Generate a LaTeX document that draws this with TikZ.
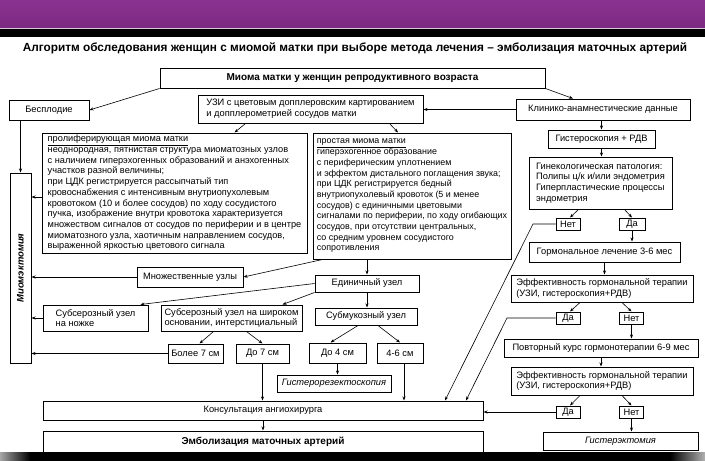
\documentclass[tikz,border=0pt]{standalone}
\usepackage{fontspec}
\setmainfont{Liberation Sans}
\usepackage{tikz}
\usetikzlibrary{arrows.meta}
\definecolor{BandPurple}{HTML}{8B3290}
\definecolor{BandPurpleDark}{HTML}{7C2A82}
\definecolor{BandLine}{HTML}{D6CAD8}

\begin{document}
\begin{tikzpicture}[x=1pt,y=-1pt,
    box/.style={draw, line width=1pt, inner sep=2pt, align=left,
      font=\fontsize{9.3}{10.7}\selectfont},
    tag/.style={box, align=center, inner sep=0pt},
    wh/.style 2 args={minimum width=#1pt, minimum height=#2pt},
    arr/.style={-{Stealth[length=4pt,width=3pt]}, line width=0.6pt}]
    \useasboundingbox (0,0) rectangle (705,461);
    \fill[white] (0,0) rectangle (705,461);
    \shade[top color=BandPurple, bottom color=BandPurpleDark] (0,0) rectangle (705,27.5);
    \fill[BandLine] (0,27.5) rectangle (705,28.7);
    \fill[black] (0,28.7) rectangle (705,37);

    \node[font=\bfseries\fontsize{11.8}{13}\selectfont] (title) at (355,48)
      {Алгоритм обследования женщин с миомой матки при выборе метода лечения – эмболизация маточных артерий};

    \node[box, align=center, wh={385}{20}, font=\bfseries\fontsize{10}{11}\selectfont] (myoma) at (352.5,78)
      {Миома матки у женщин репродуктивного возраста};
    \node[box, align=center, wh={80}{20}] (infert) at (49,110) {Бесплодие};
    \node[box, wh={225}{28}] (us) at (310.5,109)
      {УЗИ с цветовым допплеровским картированием\\и допплерометрией сосудов матки};
    \node[box, align=center, wh={174}{21}] (clinic) at (603,109.5) {Клинико-анамнестические данные};

    \node[box, align=center, wh={107}{18}] (hysc) at (601.5,139) {Гистероскопия + РДВ};
    \node[box, wh={143}{52}] (gyn) at (600.5,183)
      {Гинекологическая патология:\\Полипы ц/к и/или эндометрия\\Гиперпластические процессы\\эндометрия};
    \node[tag, wh={24}{12}] (no1) at (568,224) {Нет};
    \node[tag, wh={26}{12}] (yes1) at (632,224) {Да};
    \node[box, align=center, wh={151}{20}] (horm) at (604.5,252) {Гормональное лечение 3-6 мес};
    \node[box, wh={182}{27}] (eff1) at (602,288.5)
      {Эффективность гормональной терапии\\(УЗИ, гистероскопия+РДВ)};
    \node[tag, wh={24}{12}] (yes2) at (568,318) {Да};
    \node[tag, wh={24}{12}] (no2) at (631.5,318) {Нет};
    \node[box, align=center, wh={194}{18}] (repeat) at (601,348) {Повторный курс гормонотерапии 6-9 мес};
    \node[box, wh={182}{28}] (eff2) at (602,381)
      {Эффективность гормональной терапии\\(УЗИ, гистероскопия+РДВ)};
    \node[tag, wh={24}{12}] (yes3) at (568,412) {Да};
    \node[tag, wh={24}{12}] (no3) at (631.5,412) {Нет};
    \node[box, align=center, wh={155}{18}, font=\itshape\fontsize{9.3}{10.7}\selectfont] (hyster) at (620.5,441)
      {Гистерэктомия};

    \node[box, wh={265}{120}, font=\fontsize{9.2}{10.7}\selectfont] (prolif) at (174.5,193)
      {\underline{пролиферирующая миома матки}\\
       неоднородная, пятнистая структура миоматозных узлов\\
       с наличием гиперэхогенных образований и анэхогенных\\
       участков разной величины;\\
       при ЦДК регистрируется рассыпчатый тип\\
       кровоснабжения с интенсивным внутриопухолевым\\
       кровотоком (10 и более сосудов) по ходу сосудистого\\
       пучка, изображение внутри кровотока характеризуется\\
       множеством сигналов от сосудов по периферии и в центре\\
       миоматозного узла, хаотичным направлением сосудов,\\
       выраженной яркостью цветового сигнала};
    \node[box, wh={198}{126}, font=\fontsize{8.9}{10.7}\selectfont] (simple) at (412,196)
      {\underline{простая миома матки}\\
       гиперэхогенное образование\\
       с периферическим уплотнением\\
       и эффектом дистального поглащения звука;\\
       при ЦДК регистрируется бедный\\
       внутриопухолевый кровоток (5 и менее\\
       сосудов) с единичными цветовыми\\
       сигналами по периферии, по ходу огибающих\\
       сосудов, при отсутствии центральных,\\
       со средним уровнем сосудистого\\
       сопротивления};

    \node[box, wh={21}{190}] (myomect) at (20.5,268) {};
    \node[rotate=90, font=\bfseries\itshape\fontsize{9.5}{10}\selectfont] (myomecttxt) at (myomect) {Миомэктомия};

    \node[box, align=center, wh={106}{20}] (multi) at (190,277) {Множественные узлы};
    \node[box, align=center, wh={104}{17}] (single) at (367,283.5) {Единичный узел};
    \node[box, wh={105}{26}] (subped) at (95.5,318) {Субсерозный узел\\на ножке};
    \node[box, wh={141}{26}] (subbroad) at (231.5,318) {Субсерозный узел на широком\\основании, интерстициальный};
    \node[box, align=center, wh={102}{17}] (submuc) at (366,316.5) {Субмукозный узел};
    \node[box, align=center, wh={55}{19}] (over7) at (195.5,353.5) {Более 7 см};
    \node[box, align=center, wh={53}{19}] (upto7) at (262.5,353.5) {До 7 см};
    \node[box, align=center, wh={57}{20}] (upto4) at (337.5,353) {До 4 см};
    \node[box, align=center, wh={46}{20}] (mid46) at (400,353) {4-6 см};
    \node[box, align=center, wh={114}{17}, font=\itshape\fontsize{9.3}{10.7}\selectfont] (hystres) at (334,383.5)
      {Гистерорезектоскопия};
    \node[box, align=center, wh={440}{19}] (consult) at (263,410.5) {Консультация ангиохирурга};
    \node[box, align=center, wh={440}{22}, font=\bfseries\fontsize{10}{11}\selectfont] (embol) at (263,442)
      {Эмболизация маточных артерий};

    \coordinate (bendno) at (533,224);
    \coordinate (bendyes) at (507,318);

    \draw[arr] (myoma.south west) -- (infert.east);
    \draw[arr] (myoma.south east) -- ([xshift=-30pt]clinic.north);
    \draw[arr] (clinic.west) -- (clinic.west -| us.east);
    \draw[arr] ([xshift=-65pt]us.south) -- ([xshift=60pt]prolif.north);
    \draw[arr] ([xshift=79pt]us.south) -- ([xshift=-14pt]simple.north);
    \draw[arr] (clinic.south -| hysc.north) -- (hysc.north);
    \draw[arr] (hysc.south) -- (hysc.south |- gyn.north);
    \draw[arr] ([xshift=-22pt]gyn.south) -- ([xshift=2pt]no1.north);
    \draw[arr] ([xshift=24pt]gyn.south) -- (yes1.north);
    \draw[arr] (yes1.south) -- (yes1.south |- horm.north);
    \draw[arr] (horm.south) -- (horm.south |- eff1.north);
    \draw[arr] ([xshift=-22pt]eff1.south) -- ([xshift=2pt]yes2.north);
    \draw[arr] ([xshift=20pt]eff1.south) -- (no2.north);
    \draw[arr] (no2.south) -- (no2.south |- repeat.north);
    \draw[arr] (repeat.south) -- (repeat.south |- eff2.north);
    \draw[arr] ([xshift=-22pt]eff2.south) -- ([xshift=2pt]yes3.north);
    \draw[arr] ([xshift=20pt]eff2.south) -- (no3.north);
    \draw[arr] (no3.south) -- (no3.south |- hyster.north);
    \draw[arr] (yes3.west) -- (yes3.west -| consult.east);
    \draw[arr] (no1.west) -- (bendno) -- ([xshift=182pt]consult.north);
    \draw[arr] (yes2.west) -- (bendyes) -- ([xshift=203pt]consult.north);

    \draw[arr] (infert.south -| myomect.north) -- (myomect.north);
    \draw[arr] ([yshift=-4pt]prolif.west) -- ([yshift=-4pt]prolif.west -| myomect.east);
    \draw[arr] (multi.west) -- (multi.west -| myomect.east);
    \draw[arr] (subped.west) -- (subped.west -| myomect.east);
    \draw[arr] (over7.west) -- (over7.west -| myomect.east);
    \draw[arr] (single.north |- simple.south) -- (single.north);
    \draw[arr] ([xshift=10pt]simple.south west) -- (multi.east);
    \draw[arr] (single.west) -- ([xshift=-8pt]subped.north east);
    \draw[arr] (single.south west) -- ([xshift=51pt]subbroad.north);
    \draw[arr] (single.south) -- (single.south |- submuc.north);
    \draw[arr] ([xshift=-18pt]subbroad.south) -- ([xshift=4pt]over7.north);
    \draw[arr] ([xshift=15pt]subbroad.south) -- (upto7.north);
    \draw[arr] ([xshift=-8pt]submuc.south) -- ([xshift=-7pt]upto4.north);
    \draw[arr] ([xshift=12pt]submuc.south) -- (mid46.north);
    \draw[arr] (upto4.south) -- (upto4.south |- hystres.north);
    \draw[arr] (upto7.south) -- (upto7.south |- consult.north);
    \draw[arr] ([xshift=4pt]mid46.south) -- ([xshift=4pt]mid46.south |- consult.north);
    \draw[arr] (consult.south) -- (consult.south |- embol.north);

    \fill[black] (0,452) rectangle (705,461);
    \shade[left color=gray!70, right color=black] (0,452) rectangle (30,461);
    \shade[left color=black, right color=gray!60] (670,452) rectangle (705,461);
  \end{tikzpicture}
\end{document}
